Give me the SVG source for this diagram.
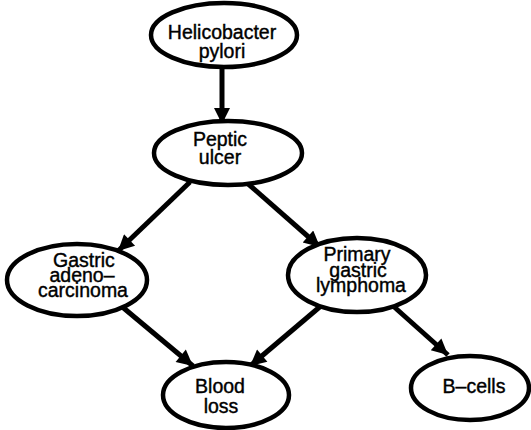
<svg xmlns="http://www.w3.org/2000/svg" width="531" height="430" viewBox="0 0 531 430">
<defs>
<marker id="ah" viewBox="0 0 10 10" refX="10" refY="5" markerWidth="5" markerHeight="3.2" orient="auto" markerUnits="strokeWidth">
<path d="M0,0 L10,5 L0,10 z" fill="#000"/>
</marker>
<style>
.n ellipse{fill:#fff;stroke:#000;stroke-width:4.5}
.n text{font-family:"Liberation Sans",Arial,sans-serif;font-size:19.5px;fill:#000;stroke:#000;stroke-width:0.4;text-anchor:middle}
.e line{stroke:#000;stroke-width:5;marker-end:url(#ah)}
</style>
</defs>
<rect width="531" height="430" fill="#fff"/>
<g class="e" id="edges">
<line x1="222" y1="68" x2="222" y2="124"/>
<line x1="190" y1="182" x2="118" y2="251"/>
<line x1="246" y1="182" x2="320" y2="247"/>
<line x1="120" y1="305" x2="193" y2="366"/>
<line x1="322" y1="305" x2="250" y2="366"/>
<line x1="392" y1="305" x2="448" y2="355"/>
</g>
<g class="n" id="helicobacter">
<ellipse cx="224" cy="35" rx="73" ry="32"/>
<text x="222" y="39">Helicobacter</text>
<text x="222" y="58">pylori</text>
</g>
<g class="n" id="peptic">
<ellipse cx="228" cy="153" rx="74" ry="32"/>
<text x="220" y="146">Peptic</text>
<text x="220" y="164">ulcer</text>
</g>
<g class="n" id="gastric">
<ellipse cx="77" cy="280" rx="70" ry="36"/>
<text x="84" y="267">Gastric</text>
<text x="82" y="282">adeno–</text>
<text x="83" y="297">carcinoma</text>
</g>
<g class="n" id="lymphoma">
<ellipse cx="357" cy="275" rx="69" ry="37"/>
<text x="357" y="261">Primary</text>
<text x="358" y="277">gastric</text>
<text x="361" y="292">lymphoma</text>
</g>
<g class="n" id="blood">
<ellipse cx="226" cy="395" rx="63" ry="33"/>
<text x="220" y="393">Blood</text>
<text x="221" y="413">loss</text>
</g>
<g class="n" id="bcells">
<ellipse cx="470" cy="388" rx="59" ry="32"/>
<text x="474" y="393">B–cells</text>
</g>
</svg>
